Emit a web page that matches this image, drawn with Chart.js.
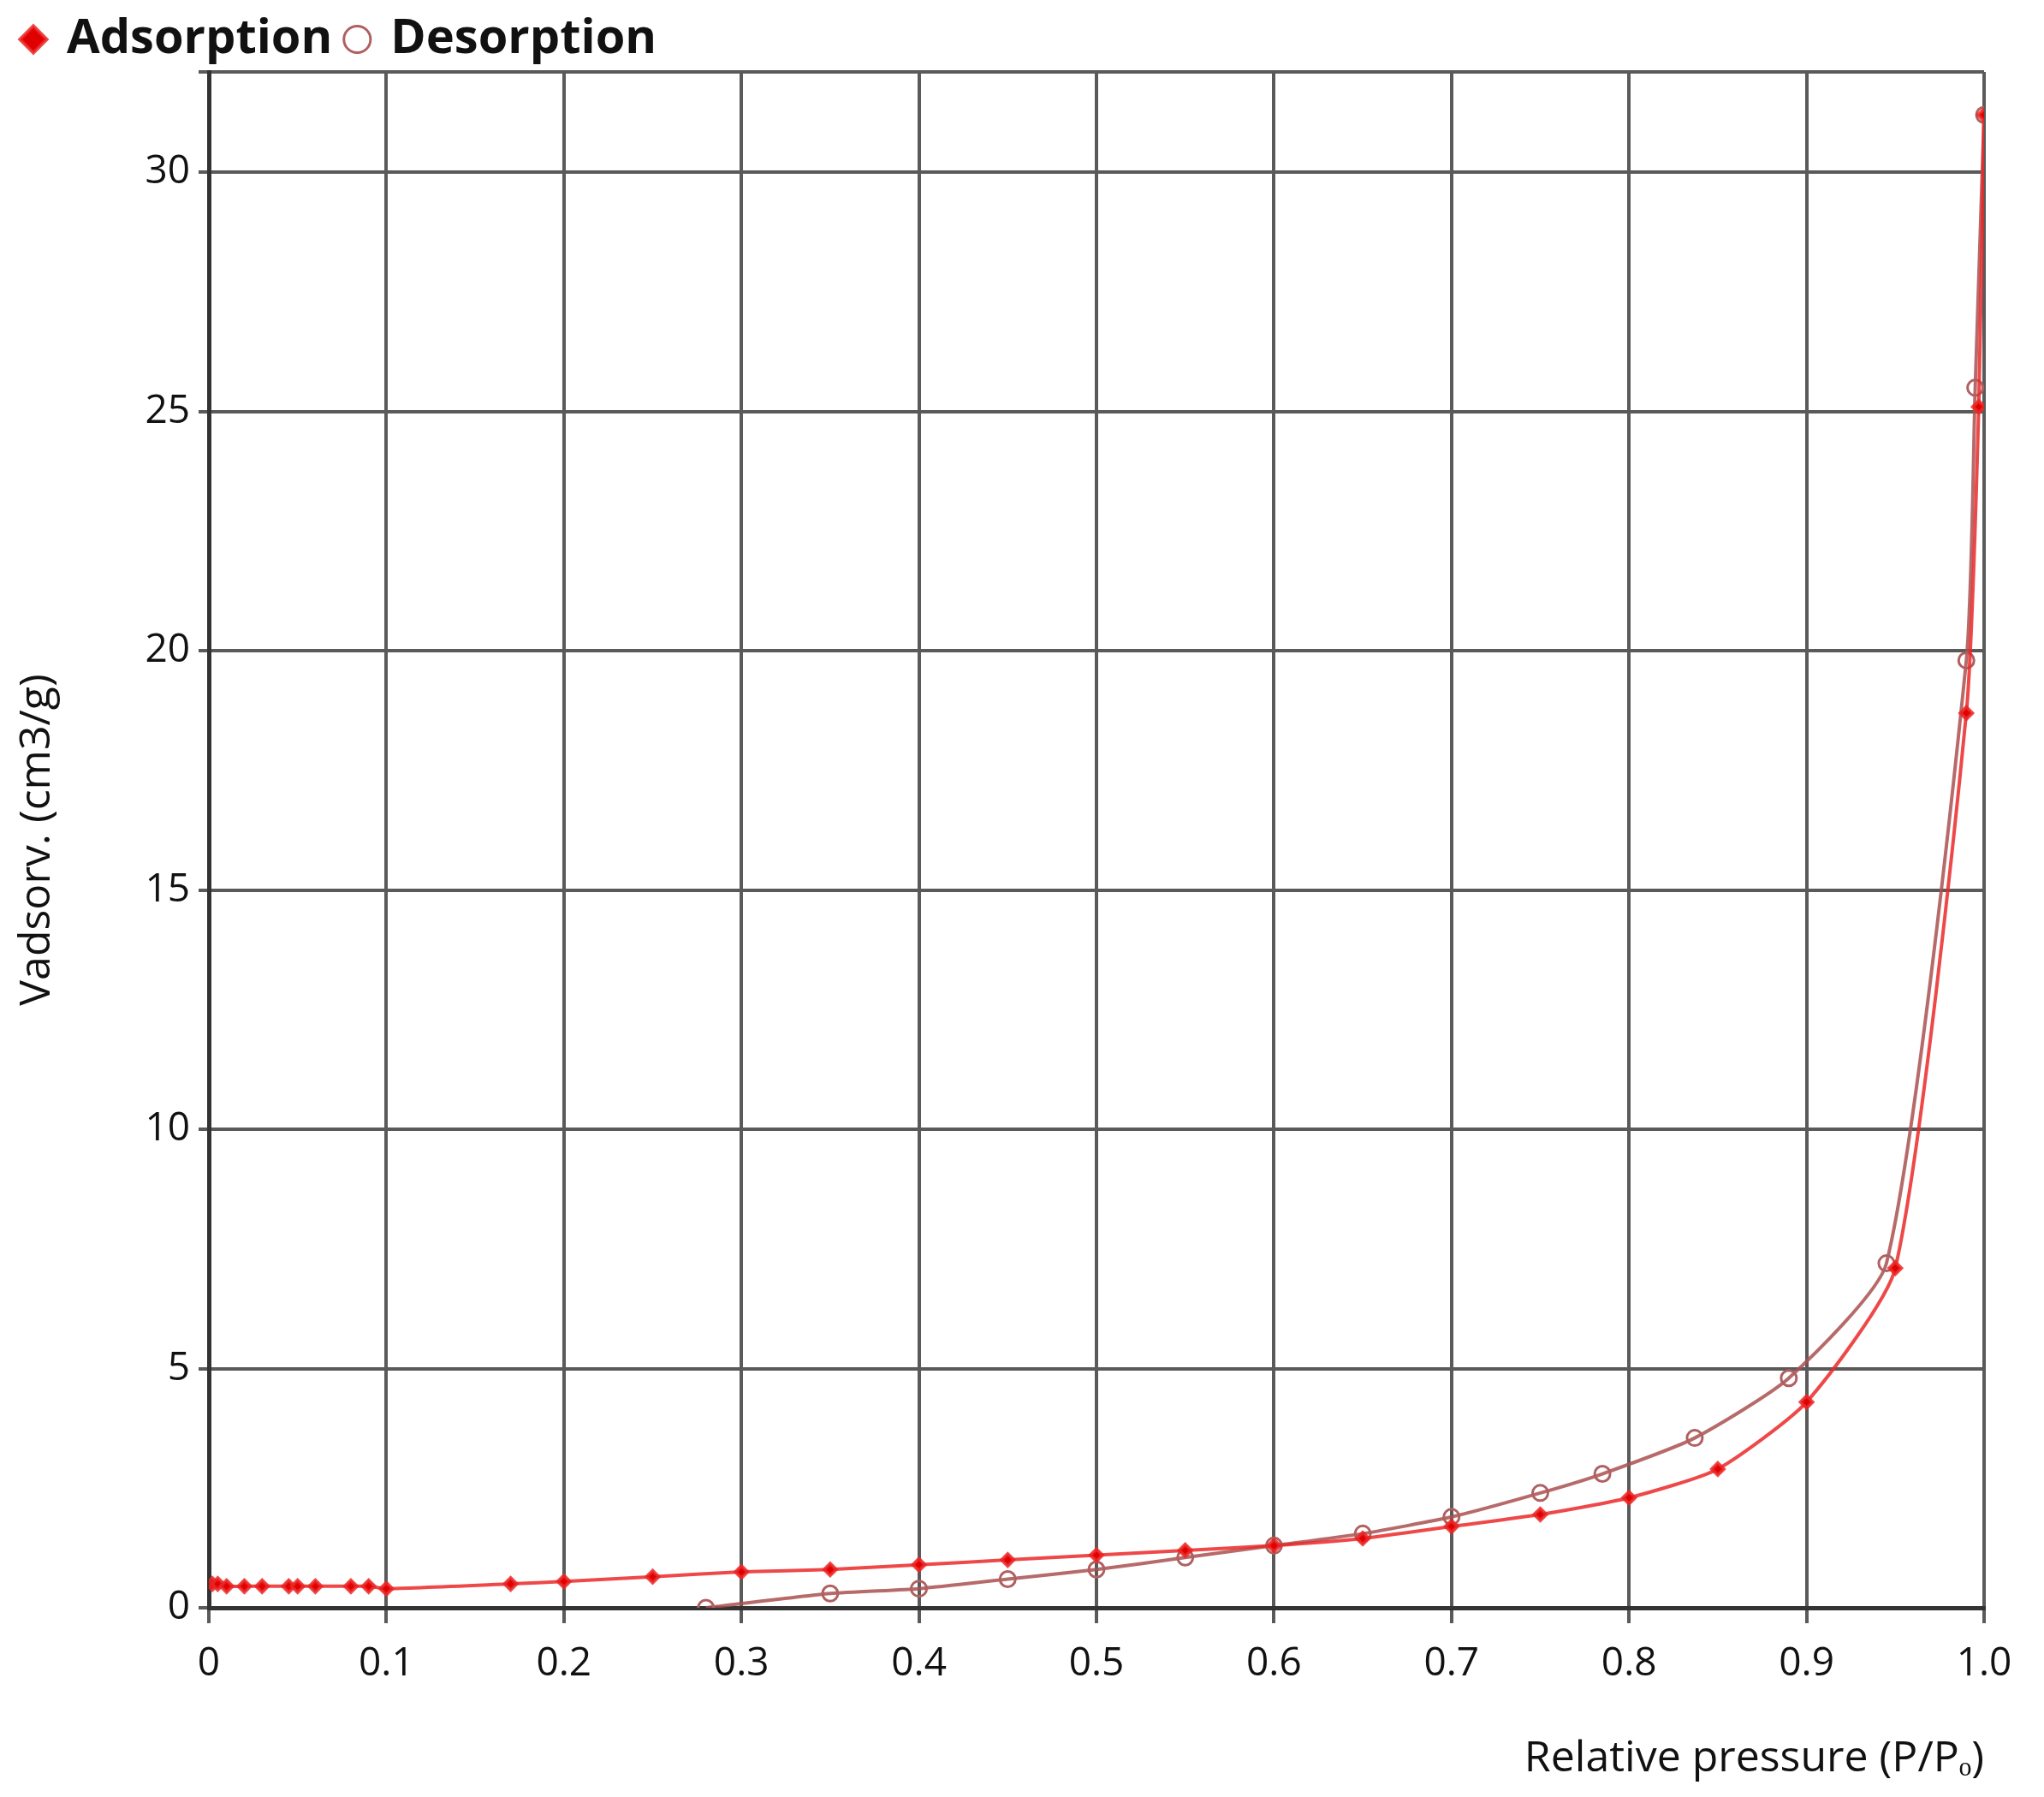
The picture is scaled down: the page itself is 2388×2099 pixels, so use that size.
<!DOCTYPE html>
<html>
<head>
<meta charset="utf-8">
<script src="https://cdn.jsdelivr.net/npm/chart.js@4/dist/chart.umd.min.js"></script>
<style>
  body { margin: 0; background: #fff; }
</style>
</head>
<body>
<canvas id="iso" width="2388" height="2099"></canvas>
<script>
// adsorption branch (P/Po, cm3/g)
const adsX = [0.002, 0.005, 0.01, 0.02, 0.03, 0.045, 0.05, 0.06, 0.08, 0.09, 0.1, 0.17, 0.2, 0.25, 0.3, 0.35, 0.4, 0.45, 0.5, 0.55, 0.6, 0.65, 0.7, 0.75, 0.8, 0.85, 0.9, 0.95, 0.99, 0.997, 1.0];
const adsY = [0.5, 0.5, 0.45, 0.45, 0.45, 0.45, 0.45, 0.45, 0.45, 0.45, 0.4, 0.5, 0.55, 0.65, 0.75, 0.8, 0.9, 1.0, 1.1, 1.2, 1.3, 1.45, 1.7, 1.95, 2.3, 2.9, 4.3, 7.1, 18.7, 25.1, 31.2];
// desorption branch
const desX = [1.0, 0.995, 0.99, 0.945, 0.89, 0.837, 0.785, 0.75, 0.7, 0.65, 0.6, 0.55, 0.5, 0.45, 0.4, 0.35, 0.28];
const desY = [31.2, 25.5, 19.8, 7.2, 4.8, 3.55, 2.8, 2.4, 1.9, 1.55, 1.3, 1.05, 0.8, 0.6, 0.4, 0.3, 0.0];

const toPts = (xs, ys) => xs.map((x, i) => ({ x: x, y: ys[i] }));
const gridCol = "#5a5a5a";

new Chart(document.getElementById("iso").getContext("2d"), {
  type: "line",
  data: {
    datasets: [
      {
        label: "Adsorption",
        data: toPts(adsX, adsY),
        borderColor: "rgba(235,40,40,0.85)",
        backgroundColor: "#e00000",
        borderWidth: 4,
        pointStyle: "rectRot",
        pointRadius: 7,
        tension: 0.2,
      },
      {
        label: "Desorption",
        data: toPts(desX, desY),
        borderColor: "rgba(170,80,80,0.85)",
        backgroundColor: "rgba(255,255,255,0)",
        pointBorderColor: "#b06060",
        borderWidth: 4,
        pointStyle: "circle",
        pointRadius: 9,
        pointBorderWidth: 3,
        tension: 0.2,
      },
    ],
  },
  options: {
    responsive: false,
    animation: false,
    layout: { padding: { top: 0, right: 70, bottom: 10, left: 10 } },
    plugins: {
      legend: {
        position: "top",
        align: "start",
        labels: {
          usePointStyle: true,
          boxWidth: 22,
          boxHeight: 22,
          color: "#111",
          padding: 18,
          font: { family: "Open Sans", size: 56, weight: "bold" },
        },
      },
    },
    scales: {
      x: {
        type: "linear",
        min: 0,
        max: 1,
        afterFit: (s) => { s.height = 211; },
        ticks: {
          stepSize: 0.1,
          color: "#111",
          padding: 20,
          font: { family: "Open Sans", size: 46 },
          callback: (v) => (v === 0 ? "0" : v === 1 ? "1.0" : v.toFixed(1)),
        },
        grid: { color: gridCol, lineWidth: 4, tickLength: 18 },
        border: { color: "#333", width: 5 },
        title: {
          display: true,
          text: "Relative pressure (P/Pₒ)",
          align: "end",
          color: "#111",
          padding: { top: 20 },
          font: { family: "Open Sans", size: 50 },
        },
      },
      y: {
        min: 0,
        max: 32.1,
        afterFit: (s) => { s.width = 234; },
        ticks: {
          stepSize: 5,
          color: "#111",
          padding: 10,
          font: { family: "Open Sans", size: 46 },
          callback: (v) => (v % 5 === 0 ? String(v) : ""),
        },
        grid: { color: gridCol, lineWidth: 4, tickLength: 12 },
        border: { color: "#333", width: 5 },
        title: {
          display: true,
          text: "Vadsorv. (cm3/g)",
          color: "#111",
          font: { family: "Open Sans", size: 50 },
        },
      },
    },
  },
});
</script>
</body>
</html>
